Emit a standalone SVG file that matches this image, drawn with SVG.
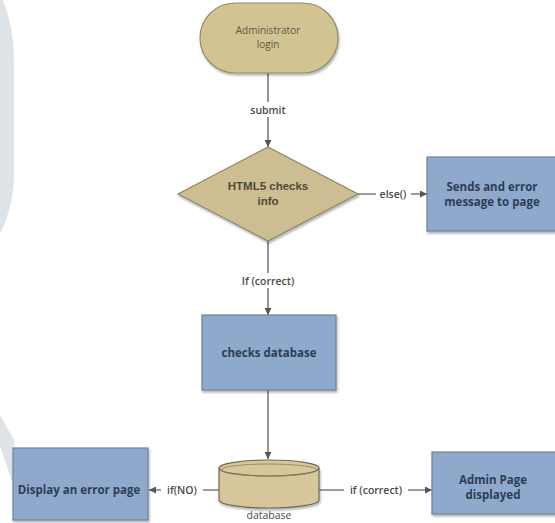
<svg xmlns="http://www.w3.org/2000/svg" width="555" height="523" viewBox="0 0 555 523">
  <defs>
    <style>
      .term { fill: #d2c392; stroke: #958a68; stroke-width: 1.2; }
      .dec { fill: #cdbd92; stroke: #8f8566; stroke-width: 1.2; }
      .proc { fill: #8fa9cd; stroke: #6f819c; stroke-width: 1.2; }
      .db { fill: #d7c699; stroke: #6f6a58; stroke-width: 1.2; }
      .edge { fill: none; stroke: #7b7b7b; stroke-width: 1.6; }
      .t-term { font-family: "Open Sans", "Noto Sans", sans-serif; font-size: 10px; fill: #5e5844; text-anchor: middle; }
      .t-dec { font-family: "Liberation Sans", Arial, sans-serif; font-size: 11.5px; font-weight: bold; fill: #4f4a38; text-anchor: middle; }
      .t-proc { font-family: "Open Sans", "Noto Sans", sans-serif; font-size: 11.5px; font-weight: bold; fill: #2e3d56; text-anchor: middle; }
      .t-lbl { font-family: "Open Sans", "Noto Sans", sans-serif; font-size: 10.5px; font-weight: 600; fill: #4a4a4a; text-anchor: middle; }
      .t-db { font-family: "Open Sans", "Noto Sans", sans-serif; font-size: 10.5px; fill: #4a4a4a; text-anchor: middle; }
      .lbl-bg { fill: #ffffff; }
    </style>
    <marker id="arrow" viewBox="0 0 10 10" refX="10" refY="5" markerWidth="7" markerHeight="7" orient="auto-start-reverse" markerUnits="userSpaceOnUse">
      <path d="M0,0 L10,5 L0,10 Z" fill="#555"/>
    </marker>
    <filter id="shadow" x="-10%" y="-10%" width="125%" height="130%">
      <feDropShadow dx="1" dy="2" stdDeviation="1.2" flood-color="#000" flood-opacity="0.3"/>
    </filter>
  </defs>

  <!-- page backdrop -->
  <rect width="555" height="523" fill="#ffffff"/>
  <path d="M0,0 L3,0 C10,18 14,38 14,62 L14,175 C14,198 8,216 0,234 Z" fill="#dde3e7"/>
  <path d="M0,415 L14,440 L14,487 L0,446 Z" fill="#dde3e7"/>

  <!-- connectors -->
  <g id="connectors">
    <line class="edge" x1="268" y1="73" x2="268" y2="147" marker-end="url(#arrow)"/>
    <rect class="lbl-bg" x="246" y="102" width="44" height="15"/>
    <text class="t-lbl" x="268" y="114">submit</text>

    <line class="edge" x1="358" y1="194" x2="427" y2="194" marker-end="url(#arrow)"/>
    <rect class="lbl-bg" x="376" y="186" width="35" height="15"/>
    <text class="t-lbl" x="393" y="198">else()</text>

    <line class="edge" x1="268" y1="241" x2="268" y2="315" marker-end="url(#arrow)"/>
    <rect class="lbl-bg" x="236" y="273" width="64" height="15"/>
    <text class="t-lbl" x="268" y="285">If (correct)</text>

    <line class="edge" x1="268" y1="390" x2="268" y2="459" marker-end="url(#arrow)"/>

    <line class="edge" x1="219" y1="490" x2="149" y2="490" marker-end="url(#arrow)"/>
    <rect class="lbl-bg" x="161" y="482" width="42" height="15"/>
    <text class="t-lbl" x="182" y="494">if(NO)</text>

    <line class="edge" x1="319" y1="490" x2="432" y2="490" marker-end="url(#arrow)"/>
    <rect class="lbl-bg" x="344" y="482" width="64" height="15"/>
    <text class="t-lbl" x="376" y="494">if (correct)</text>
  </g>

  <!-- start -->
  <g id="admin-login">
    <rect class="term" x="200" y="3" width="138" height="70" rx="35" ry="35" filter="url(#shadow)"/>
    <text class="t-term" x="268" y="34">Administrator</text>
    <text class="t-term" x="268" y="48">login</text>
  </g>

  <!-- decision -->
  <g id="html5-check">
    <polygon class="dec" points="268,147 358,194 268,241 178,194" filter="url(#shadow)"/>
    <text class="t-dec" x="268" y="190">HTML5 checks</text>
    <text class="t-dec" x="268" y="205">info</text>
  </g>

  <g id="send-error">
    <rect class="proc" x="427" y="157" width="130" height="74" filter="url(#shadow)"/>
    <text class="t-proc" x="492" y="191">Sends and error</text>
    <text class="t-proc" x="492" y="206">message to page</text>
  </g>

  <g id="check-db">
    <rect class="proc" x="202" y="315" width="134" height="75" filter="url(#shadow)"/>
    <text class="t-proc" x="269" y="357">checks database</text>
  </g>

  <!-- storage -->
  <g id="database">
    <path class="db" d="M219,468 L219,500 A50,8 0 0 0 319,500 L319,468" filter="url(#shadow)"/>
    <ellipse class="db" cx="269" cy="468" rx="50" ry="8"/>
    <ellipse cx="269" cy="470" rx="48" ry="6" fill="none" stroke="#8a7f60" stroke-width="0.8"/>
    <text class="t-db" x="269" y="519">database</text>
  </g>

  <g id="error-page">
    <rect class="proc" x="13" y="448" width="135" height="72" filter="url(#shadow)"/>
    <text class="t-proc" x="79" y="494">Display an error page</text>
  </g>

  <g id="admin-page">
    <rect class="proc" x="432" y="452" width="125" height="62" filter="url(#shadow)"/>
    <text class="t-proc" x="493" y="484">Admin Page</text>
    <text class="t-proc" x="493" y="499">displayed</text>
  </g>
</svg>
